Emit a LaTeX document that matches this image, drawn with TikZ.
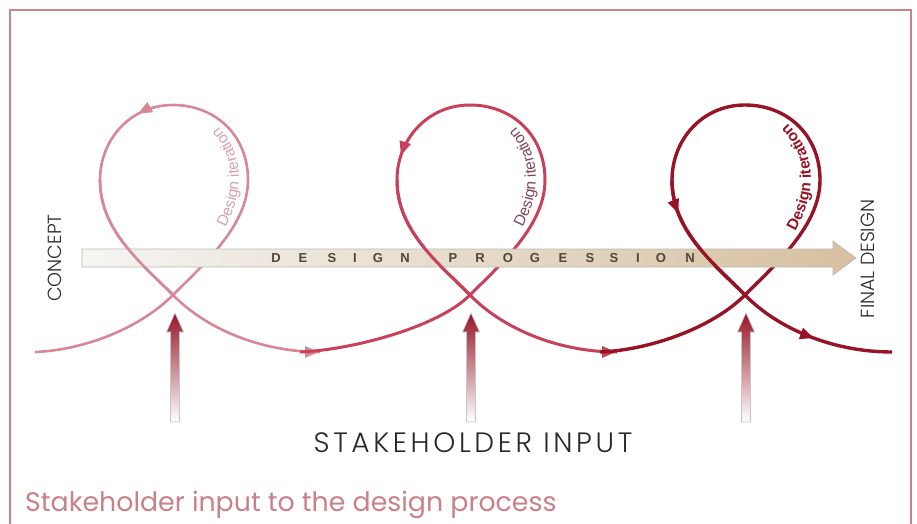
\documentclass[tikz,border=0pt]{standalone}
\usepackage{fontspec}
\setmainfont{Liberation Sans}
\IfFontExistsTF{Poppins Light}
  {\newfontfamily\thinfont{Poppins Light}}
  {\newfontfamily\thinfont{Poppins}}
\newfontfamily\capfont{Poppins}
\usetikzlibrary{arrows.meta,decorations.markings,decorations.text}

\definecolor{framepink}{RGB}{200,130,138}
\definecolor{loopA}{RGB}{215,135,150}
\definecolor{loopB}{RGB}{200,65,90}
\definecolor{loopC}{RGB}{150,20,38}
\definecolor{textA}{RGB}{215,160,172}
\definecolor{textB}{RGB}{125,70,88}
\definecolor{barleft}{RGB}{245,245,243}
\definecolor{bartan}{RGB}{214,192,160}
\definecolor{bartext}{RGB}{80,70,55}
\definecolor{inputred}{RGB}{150,22,40}
\definecolor{captionpink}{RGB}{201,128,136}
\definecolor{labelgray}{RGB}{40,40,40}

\tikzset{looptip/.tip={Triangle[length=14pt, width=11pt]}}

\begin{document}
\begin{tikzpicture}[x=1pt, y=-1pt,
    inputarrow/.style={top color=inputred, middle color=inputred!70!white, bottom color=white, draw=gray!45, line width=0.6pt},
    barletter/.style={font=\fontsize{13}{13}\selectfont\bfseries, text=bartext, inner sep=0pt},
    sidelabel/.style={font=\thinfont\fontsize{19}{19}\selectfont, text=labelgray, rotate=90, inner sep=0pt}]

\useasboundingbox (0,0) rectangle (917,524);

% Frame
\draw[framepink, line width=2pt] (10,530) -- (10,10) -- (911,10) -- (911,530);

% Loops
\foreach \dx/\sx/\col/\lw/\mk/\ex in {0/35/loopA/2.6/0.54/0.999, 297/3/loopB/3/0.62/0.999, 572/28/loopC/3.4/0.68/0.905}
{
  \draw[line width=\lw pt, \col, shift={(\dx,0)}, postaction={decorate},
      decoration={markings, mark=at position \mk with {\arrow{looptip}},
        mark=at position \ex with {\arrow{looptip}}}]
    (\sx,352) .. controls (\sx+50,350) and (140,328) .. (173,295)
    .. controls (205,263) and (248,225) .. (248,180)
    .. controls (248,135) and (215,105) .. (173,105)
    .. controls (130,105) and (100,140) .. (100,180)
    .. controls (100,230) and (140,262) .. (173,295)
    .. controls (205,328) and (260,352) .. (320,352);
}

% Progression bar
\shade[left color=barleft, right color=bartan, draw=gray!55, line width=0.6pt]
  (82,249) -- (833,249) -- (833,241) -- (856,258) -- (833,275) -- (833,267) -- (82,267) -- cycle;
\foreach \ch/\px [count=\i] in {D/276, E/303, S/332, I/355, G/378, N/405,
    P/453, R/480, O/508, G/535, E/563, S/590, S/614, I/638, O/661, N/690}
  \node[barletter] (bar\i) at (\px,258) {\ch};

% left strands over the bar
\foreach \dx/\col/\lw in {0/loopA/2.6, 297/loopB/3, 572/loopC/3.4}
  \draw[line width=\lw pt, \col, shift={(\dx,0)}] (100,180) .. controls (100,230) and (140,262) .. (173,295);

% Design iteration
\foreach \dx/\col/\fw in {0/textA/\mdseries, 297/textB/\mdseries, 572/loopC/\bfseries}
  \path[shift={(\dx,0)}, decorate, decoration={text along path, text align={center},
      text={|\fontsize{15.5}{15.5}\selectfont\fw\color{\col}|Design iteration}}]
    (217,242) .. controls (245,200) and (251,150) .. (206,116);

% Stakeholder arrows
\foreach \ax in {175,471,746}
  \shade[inputarrow] (\ax,313) -- (\ax+8.5,332) -- (\ax+4.5,332) -- (\ax+4.5,422)
    -- (\ax-4.5,422) -- (\ax-4.5,332) -- (\ax-8.5,332) -- cycle;

% Labels
\node[sidelabel] (concept) at (55,258) {CONCEPT};
\node[sidelabel] (final) at (868,259) {FINAL DESIGN};
\node[font=\thinfont\fontsize{28}{28}\selectfont\addfontfeatures{LetterSpace=13}, text=labelgray, inner sep=0pt]
  (input) at (473,443) {STAKEHOLDER INPUT};
\node[font=\capfont\fontsize{26.8}{26.8}\selectfont, text=captionpink, anchor=base west, inner sep=0pt]
  (title) at (25,511) {Stakeholder input to the design process};
\end{tikzpicture}
\end{document}
